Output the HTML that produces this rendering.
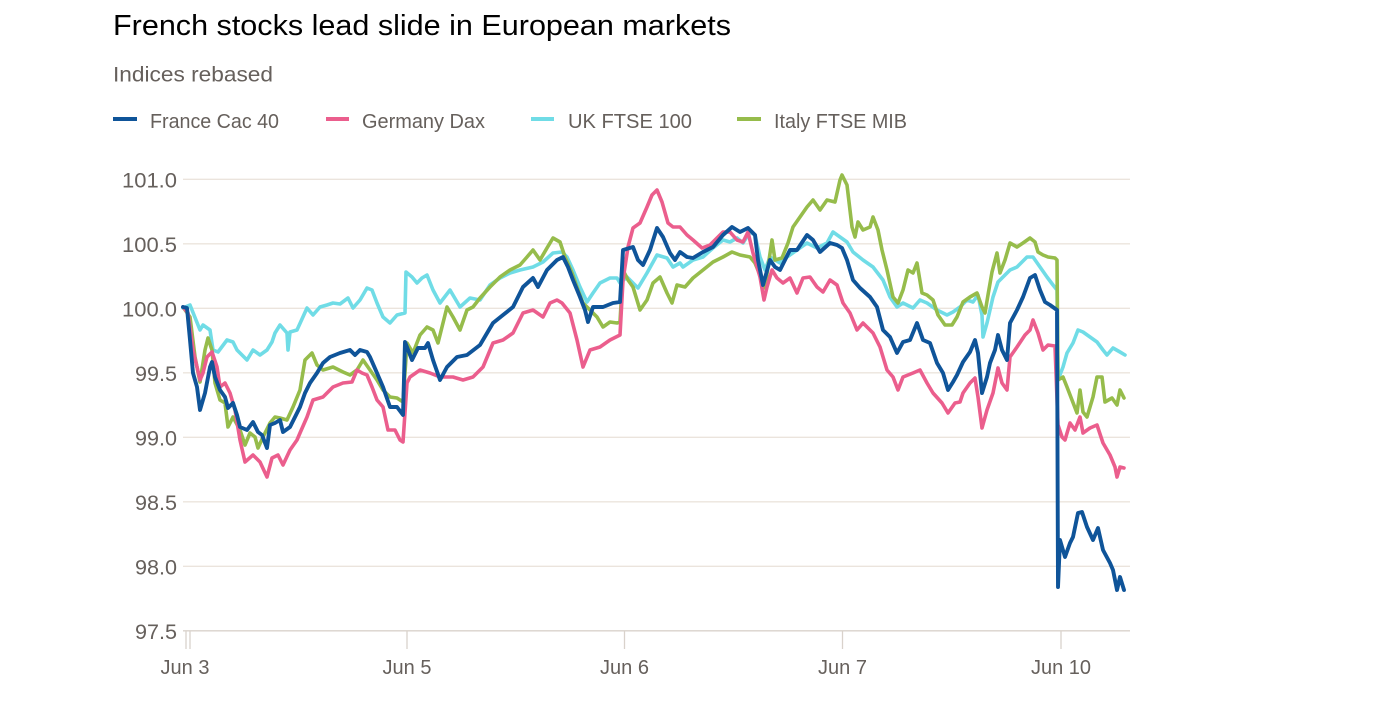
<!DOCTYPE html>
<html><head><meta charset="utf-8"><style>
html,body{margin:0;padding:0;background:#fff;width:1380px;height:710px;overflow:hidden}
svg{display:block}
text{font-family:"Liberation Sans",sans-serif}
</style></head><body>
<svg width="1380" height="710" viewBox="0 0 1380 710" xmlns="http://www.w3.org/2000/svg">
<rect width="1380" height="710" fill="#fff"/>
<text x="113" y="35" font-size="29" fill="#000" textLength="618" lengthAdjust="spacingAndGlyphs">French stocks lead slide in European markets</text>
<text x="113" y="81.5" font-size="21" fill="#66605c" textLength="160" lengthAdjust="spacingAndGlyphs">Indices rebased</text>
<g stroke-width="4">
<line x1="113" y1="119" x2="137" y2="119" stroke="#0f5499"/>
<line x1="326" y1="119" x2="349" y2="119" stroke="#eb5e8d"/>
<line x1="531" y1="119" x2="554" y2="119" stroke="#70dce6"/>
<line x1="737" y1="119" x2="761" y2="119" stroke="#96bc4b"/>
</g>
<g font-size="20" fill="#66605c">
<text x="150" y="128" textLength="129" lengthAdjust="spacingAndGlyphs">France Cac 40</text>
<text x="362" y="128" textLength="123" lengthAdjust="spacingAndGlyphs">Germany Dax</text>
<text x="568" y="128" textLength="124" lengthAdjust="spacingAndGlyphs">UK FTSE 100</text>
<text x="774" y="128" textLength="133" lengthAdjust="spacingAndGlyphs">Italy FTSE MIB</text>
</g>
<g stroke="#ebe4dd" stroke-width="1.3">
<line x1="183" y1="179.3" x2="1130" y2="179.3"/>
<line x1="183" y1="243.8" x2="1130" y2="243.8"/>
<line x1="183" y1="308.3" x2="1130" y2="308.3"/>
<line x1="183" y1="372.8" x2="1130" y2="372.8"/>
<line x1="183" y1="437.3" x2="1130" y2="437.3"/>
<line x1="183" y1="501.8" x2="1130" y2="501.8"/>
<line x1="183" y1="566.3" x2="1130" y2="566.3"/>
</g>
<g stroke="#d9d2cb" stroke-width="1.3">
<line x1="183" y1="630.8" x2="1130" y2="630.8"/>
<line x1="186" y1="631" x2="186" y2="649"/>
<line x1="190" y1="631" x2="190" y2="649"/>
<line x1="407" y1="631" x2="407" y2="649"/>
<line x1="624.5" y1="631" x2="624.5" y2="649"/>
<line x1="842.5" y1="631" x2="842.5" y2="649"/>
<line x1="1061" y1="631" x2="1061" y2="649"/>
</g>
<g font-size="21" fill="#66605c" text-anchor="end">
<text x="177" y="187.5" textLength="55" lengthAdjust="spacingAndGlyphs">101.0</text>
<text x="177" y="252" textLength="55" lengthAdjust="spacingAndGlyphs">100.5</text>
<text x="177" y="316.5" textLength="55" lengthAdjust="spacingAndGlyphs">100.0</text>
<text x="177" y="381" textLength="42" lengthAdjust="spacingAndGlyphs">99.5</text>
<text x="177" y="445.5" textLength="42" lengthAdjust="spacingAndGlyphs">99.0</text>
<text x="177" y="510" textLength="42" lengthAdjust="spacingAndGlyphs">98.5</text>
<text x="177" y="574.5" textLength="42" lengthAdjust="spacingAndGlyphs">98.0</text>
<text x="177" y="639" textLength="42" lengthAdjust="spacingAndGlyphs">97.5</text>
</g>
<g font-size="20" fill="#66605c" text-anchor="middle">
<text x="185" y="674">Jun 3</text>
<text x="407" y="674">Jun 5</text>
<text x="624.5" y="674">Jun 6</text>
<text x="842.5" y="674">Jun 7</text>
<text x="1061" y="674">Jun 10</text>
</g>
<g fill="none" stroke-width="3.6" stroke-linejoin="round" stroke-linecap="round">
<polyline stroke="#70dce6" points="183,308 190,305 200,330 203,325 210,330 213,350 218,352 227,340 233,342 237,350 247,360 253,350 260,355 267,350 272,342 275,333 280,325 287,333 288,350 290,332 297,330 307,308 313,315 320,307 327,305 333,303 340,304 348,298 353,308 360,300 367,288 372,290 377,303 383,317 390,323 397,315 405,313 406,272 412,277 417,283 422,278 427,275 433,290 440,303 450,290 460,307 470,298 480,300 490,285 500,278 510,273 520,270 533,267 543,262 553,253 562,252 567,257 573,270 580,287 587,302 593,293 600,283 610,278 617,278 620,283 627,277 633,283 638,288 647,273 657,255 667,258 673,267 680,263 683,267 693,260 703,257 713,248 723,240 730,242 737,238 743,243 750,232 755,235 760,257 765,270 770,257 775,260 780,263 787,257 797,250 807,243 817,248 827,243 833,232 840,237 847,242 853,252 863,260 873,267 883,280 890,297 897,307 903,303 913,308 920,300 927,303 937,310 947,315 953,312 960,307 967,300 973,302 978,295 982,315 983,337 987,323 993,297 998,282 1003,277 1010,270 1017,267 1027,257 1033,257 1040,267 1047,277 1053,285 1057,290 1058,380 1063,367 1067,353 1073,343 1078,330 1083,332 1090,337 1097,342 1103,350 1107,355 1113,348 1120,352 1125,355"/>
<polyline stroke="#96bc4b" points="183,307 190,317 195,357 200,382 205,350 208,338 212,350 215,383 220,400 225,403 228,427 233,417 240,430 245,445 250,433 255,437 258,448 263,437 270,423 275,417 280,418 287,420 293,407 300,390 305,360 312,353 317,365 323,370 333,367 343,372 350,375 357,370 363,360 370,370 377,380 383,390 390,397 397,398 403,402 407,343 413,353 420,335 427,327 433,330 438,343 447,307 453,317 460,330 467,310 473,307 480,298 490,287 500,277 510,270 520,265 527,257 533,250 540,260 547,248 553,238 560,242 565,257 572,273 578,290 583,303 590,310 597,317 603,327 610,322 617,323 620,322 623,270 628,280 633,287 640,310 647,300 653,283 660,277 667,293 672,303 677,285 685,287 693,278 703,270 713,262 723,257 732,252 740,255 750,257 755,263 760,275 765,288 768,267 772,240 775,260 782,258 788,243 793,227 800,217 807,207 813,200 820,210 827,200 835,202 840,180 842,175 847,185 852,227 855,237 858,222 863,230 870,227 873,217 878,230 882,250 887,270 893,297 898,303 903,290 908,270 913,273 917,263 922,293 927,295 933,300 938,315 945,325 952,325 957,317 963,302 970,297 977,293 982,307 985,313 988,295 992,272 997,253 1000,273 1005,260 1010,243 1017,247 1023,243 1030,238 1035,242 1038,252 1043,255 1048,257 1055,258 1057,260 1058,380 1063,377 1067,387 1072,400 1077,413 1080,390 1083,412 1087,417 1090,407 1093,397 1097,377 1102,377 1105,402 1112,398 1117,405 1120,390 1124,398"/>
<polyline stroke="#eb5e8d" points="183,307 188,313 193,350 197,367 200,380 203,373 207,357 212,352 217,367 220,387 225,383 230,393 235,410 240,440 245,462 253,455 260,462 267,477 272,458 278,455 283,465 290,450 297,440 300,433 307,417 313,400 323,397 333,387 343,383 352,382 357,370 362,373 367,375 372,387 377,400 383,407 388,430 395,430 400,440 403,442 407,383 410,377 420,370 430,373 440,377 453,377 463,380 473,377 483,367 493,343 503,340 513,333 523,313 533,310 543,317 550,303 557,300 562,303 570,313 577,340 583,367 590,350 600,347 610,340 620,335 623,280 628,247 633,228 640,223 647,207 652,195 657,190 662,202 668,223 673,227 680,227 687,235 693,240 702,248 710,245 718,237 723,232 730,232 737,240 743,242 748,232 753,253 760,277 764,300 767,287 772,270 777,278 783,283 790,278 797,293 803,278 810,277 817,287 823,292 830,280 837,285 843,303 850,313 857,330 863,323 873,333 880,347 887,370 893,377 898,390 903,377 913,373 920,370 927,383 933,393 942,403 948,413 955,403 960,402 963,393 970,383 975,378 978,397 982,428 987,410 993,393 998,368 1002,383 1007,390 1010,357 1017,347 1025,335 1030,330 1033,320 1038,333 1043,350 1048,345 1055,346 1058,425 1062,437 1065,440 1070,423 1075,430 1080,417 1083,433 1090,428 1097,425 1103,443 1110,455 1115,467 1117,477 1120,467 1124,468"/>
<polyline stroke="#0f5499" stroke-width="3.9" points="183,307 187,308 190,340 193,373 197,387 200,410 205,393 210,367 212,362 215,377 220,390 225,397 228,408 233,403 237,415 240,427 247,430 253,422 258,432 262,435 267,448 270,425 275,423 280,420 283,432 290,427 295,417 300,407 305,393 310,383 317,373 323,363 330,357 340,353 350,350 355,355 360,350 367,352 370,357 377,373 383,387 390,407 397,407 403,415 405,342 412,360 418,348 425,348 428,343 433,360 440,380 447,367 457,357 467,355 480,345 493,323 503,315 513,307 523,287 533,278 538,287 547,270 557,260 563,257 568,267 573,280 580,297 585,310 588,322 593,307 603,307 613,303 620,302 623,250 633,247 638,260 643,265 650,250 657,228 663,237 670,253 675,260 680,252 687,257 693,258 703,252 713,247 723,235 732,227 740,232 748,228 755,235 758,260 763,285 770,260 775,267 780,270 790,250 797,250 807,235 813,240 820,252 830,243 837,245 842,248 847,260 853,280 860,288 870,297 877,307 883,330 890,337 897,353 903,342 910,340 917,323 923,340 930,343 937,363 943,373 948,390 953,382 957,375 963,362 970,352 975,340 978,353 982,393 987,377 990,363 995,350 998,335 1002,350 1007,360 1010,323 1017,310 1023,297 1030,278 1035,275 1040,290 1045,302 1050,305 1057,310 1058,587 1060,540 1065,557 1070,543 1073,537 1078,513 1082,512 1087,527 1093,540 1098,528 1103,550 1110,563 1113,570 1117,590 1120,577 1124,590"/>
</g>
</svg>
</body></html>
